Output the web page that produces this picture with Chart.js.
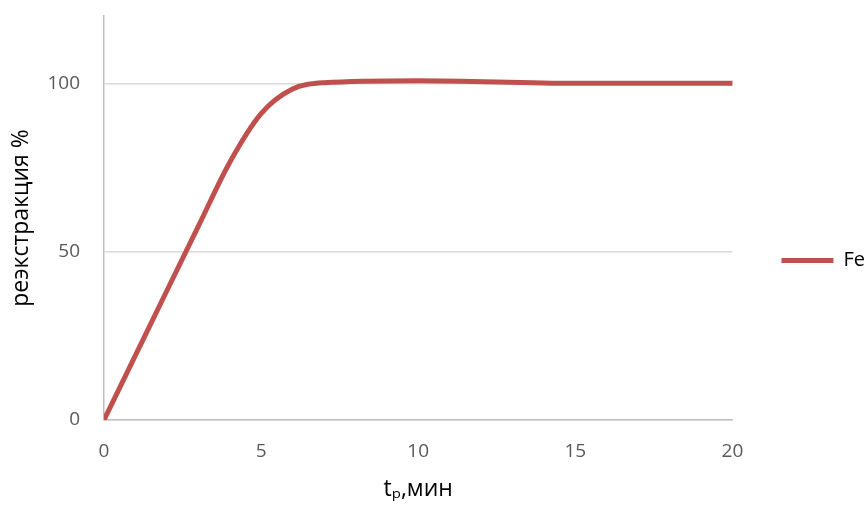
<!DOCTYPE html>
<html>
<head>
<meta charset="utf-8">
<script src="https://cdn.jsdelivr.net/npm/chart.js@4"></script>
<style>
  html, body { margin: 0; padding: 0; background: #fff; }
  #wrap { width: 867px; height: 505px; }
</style>
</head>
<body>
<div id="wrap"><canvas id="chart"></canvas></div>
<script>
// время реэкстракции, мин
const times = [0, 1, 2, 3, 4, 5, 6, 7, 10, 15, 20];
// реэкстракция Fe, %
const feValues = [0, 19.2, 38.4, 57.5, 76.5, 91, 98.3, 100.2, 100.8, 100, 100];
const yTicks = [0, 50, 100];
const xTicks = [0, 5, 10, 15, 20];

const red = '#C0504D';
const font = 'Open Sans';

const ctx = document.getElementById('chart').getContext('2d');
const chart = new Chart(ctx, {
    type: 'line',
    data: {
        datasets: [{
            label: 'Fe',
            data: times.map((t, i) => ({ x: t, y: feValues[i] })),
            borderColor: red,
            backgroundColor: red,
            borderWidth: 5,
            borderCapStyle: 'round',
            pointRadius: 0,
            cubicInterpolationMode: 'monotone'
        }]
    },
    options: {
        responsive: true,
        maintainAspectRatio: false,
        animation: false,
        layout: { padding: { left: 0, right: -8, top: 16, bottom: 0 } },
        plugins: {
            tooltip: { enabled: false },
            legend: {
                position: 'right',
                labels: {
                    usePointStyle: true,
                    pointStyle: 'line',
                    pointStyleWidth: 52,
                    padding: 49,
                    color: '#000',
                    font: { family: font, size: 20 }
                }
            }
        },
        scales: {
            x: {
                type: 'linear',
                min: 0,
                max: 20,
                afterBuildTicks: s => { s.ticks = xTicks.map(v => ({ value: v })); },
                afterFit: s => { s.height = 85; s.paddingLeft = 0; s.paddingRight = 0; },
                grid: { display: false, drawTicks: false },
                border: { color: '#BFBFBF', width: 1.5 },
                ticks: { padding: 20, color: '#595959', font: { family: font, size: 19 } },
                title: {
                    display: true,
                    text: 'tₚ,мин',
                    color: '#000',
                    padding: { top: 0, bottom: 2 },
                    font: { family: font, size: 23 }
                }
            },
            y: {
                min: 0,
                max: 120,
                afterBuildTicks: s => { s.ticks = yTicks.map(v => ({ value: v })); },
                afterFit: s => { s.width = 104; s.paddingTop = 0; s.paddingBottom = 0; },
                grid: { color: '#D9D9D9', lineWidth: 1.5, drawTicks: false },
                border: { color: '#BFBFBF', width: 1.5 },
                ticks: { padding: 24, color: '#595959', font: { family: font, size: 19 } },
                title: {
                    display: true,
                    text: 'реэкстракция %',
                    color: '#000',
                    padding: { top: 8, bottom: 0 },
                    font: { family: font, size: 23 }
                }
            }
        }
    }
});
</script>
</body>
</html>
